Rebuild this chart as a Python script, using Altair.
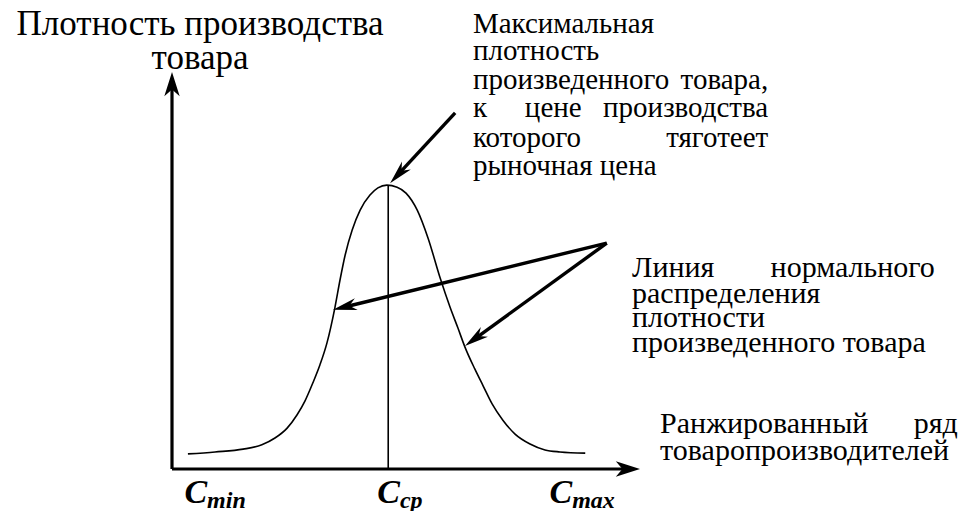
import math
import altair as alt
import pandas as pd

# ---------------- data (chart units: x = ranked producers 0..100, y = density 0..100) -------------
curve_x = [3.4, 9.2, 15.2, 19.2, 22.0, 24.6, 26.7, 28.4, 30.1, 31.6, 33.1, 34.8, 35.9, 37.0,
           38.5, 40.2, 42.3, 44.0, 45.9,
           48.1, 50.0, 52.4, 54.7, 57.3, 59.4, 61.1, 62.6, 64.7, 66.5, 68.4, 70.7, 73.3,
           76.5, 79.7, 82.9, 88.3]
curve_y = [3.8, 4.3, 5.0, 6.1, 7.8, 10.3, 13.6, 17.1, 21.7, 26.2, 31.7, 40.6, 47.6, 53.9,
           60.2, 65.2, 69.0, 70.8, 71.5,
           71.0, 69.5, 65.2, 58.2, 48.1, 40.8, 35.5, 30.7, 25.2, 20.9, 16.4, 12.3, 8.8,
           6.3, 4.8, 4.3, 4.0]

c_mean_x = 46.2          # C_ср
c_peak_y = 71.5

tick_pos = [7.5, 48.7, 85.5]
tick_main = ["C", "C", "C"]
tick_sub = ["min", "ср", "max"]

axis_end_x = 100
axis_end_y = 100

# annotation arrows: from -> to
arrow_from_x = [60.5, 92.9, 92.9]
arrow_from_y = [89.7, 56.9, 56.9]
arrow_to_x = [46.6, 34.4, 62.6]
arrow_to_y = [72.0, 40.1, 31.0]

y_title = ["Плотность производства", "товара"]
y_title_pos = (6.0, 109.3)

# left-aligned words (text, x, y, size)
notes_left = [
    ("Максимальная", 64.3, 109.8, 29),
    ("плотность", 64.3, 103.0, 29),
    ("произведенного", 64.3, 95.7, 29),
    ("к", 64.3, 88.7, 29),
    ("цене", 75.4, 88.7, 29),
    ("которого", 64.3, 81.1, 29),
    ("рыночная цена", 64.3, 74.1, 29),
    ("Линия", 98.3, 48.4, 30),
    ("распределения", 98.3, 41.8, 30),
    ("плотности", 98.3, 35.8, 30),
    ("произведенного товара", 98.3, 29.5, 30),
    ("Ранжированный", 104.3, 9.1, 30),
    ("товаропроизводителей", 104.3, 2.3, 30),
]
# right-aligned words (justified line ends)
notes_right = [
    ("товара,", 127.4, 95.7, 29),
    ("производства", 127.4, 88.7, 29),
    ("тяготеет", 127.4, 81.1, 29),
    ("нормального", 163.0, 48.4, 30),
    ("ряд", 167.9, 9.1, 30),
]

# ---------------- layout ----------------
W, H = 950, 503
X0, Y0 = 164, 461          # origin in svg pixels
PXX, PXY = 4.68, 3.97      # pixels per unit
xdom = [-X0 / PXX, (W - X0) / PXX]
ydom = [-(H - Y0) / PXY, Y0 / PXY]
xs = alt.Scale(domain=xdom, nice=False, zero=False)
ys = alt.Scale(domain=ydom, nice=False, zero=False)
X = lambda f="x": alt.X(f"{f}:Q", scale=xs, axis=None)
Y = lambda f="y": alt.Y(f"{f}:Q", scale=ys, axis=None)

FONT = "Liberation Serif"
AXIS_HEAD = "M0,0 L0.7,2.2 L0,1.6 L-0.7,2.2 Z"
NOTE_HEAD = "M0,0 L0.5,2.0 L0,1.4 L-0.5,2.0 Z"


def arrows(fx, fy, tx, ty, shorten):
    rows, heads = [], []
    for a, b, c, d in zip(fx, fy, tx, ty):
        dxp, dyp = (c - a) * PXX, (d - b) * PXY
        L = math.hypot(dxp, dyp)
        ex = c - shorten * dxp / L / PXX
        ey = d - shorten * dyp / L / PXY
        ang = math.degrees(math.atan2(dxp, dyp)) % 360
        rows.append({"x": a, "y": b, "x2": ex, "y2": ey})
        heads.append({"x": c, "y": d, "angle": ang})
    return pd.DataFrame(rows), pd.DataFrame(heads)


ax_lines, ax_heads = arrows([0, 0], [0, 0], [0, axis_end_x], [axis_end_y, 0], 15)
nt_lines, nt_heads = arrows(arrow_from_x, arrow_from_y, arrow_to_x, arrow_to_y, 13)

axis_rules = alt.Chart(ax_lines).mark_rule(color="black", strokeWidth=3.2).encode(
    x=X(), y=Y(), x2="x2:Q", y2="y2:Q")
axis_heads = alt.Chart(ax_heads).mark_point(
    shape=AXIS_HEAD, filled=True, size=484, color="black", opacity=1, strokeWidth=0
).encode(x=X(), y=Y(), angle=alt.Angle("angle:Q", scale=None))

note_rules = alt.Chart(nt_lines).mark_rule(color="black", strokeWidth=3.4).encode(
    x=X(), y=Y(), x2="x2:Q", y2="y2:Q")
note_heads = alt.Chart(nt_heads).mark_point(
    shape=NOTE_HEAD, filled=True, size=576, color="black", opacity=1, strokeWidth=0
).encode(x=X(), y=Y(), angle=alt.Angle("angle:Q", scale=None))

curve = alt.Chart(pd.DataFrame({"x": curve_x, "y": curve_y})).mark_line(
    color="black", strokeWidth=1.6, interpolate="monotone").encode(x=X(), y=Y())

center = alt.Chart(pd.DataFrame({"x": [c_mean_x], "y": [0], "y2": [c_peak_y]})).mark_rule(
    color="black", strokeWidth=1.6).encode(x=X(), y=Y(), y2="y2:Q")

ticks = pd.DataFrame({"x": tick_pos, "y": [0] * 3, "m": tick_main, "s": tick_sub})
tick_main_t = alt.Chart(ticks).mark_text(
    font=FONT, fontSize=34, fontStyle="italic", fontWeight="bold", align="right",
    baseline="alphabetic", dy=34, color="black").encode(x=X(), y=Y(), text="m:N")
tick_sub_t = alt.Chart(ticks).mark_text(
    font=FONT, fontSize=24, fontStyle="italic", fontWeight="bold", align="left",
    baseline="alphabetic", dy=39, color="black").encode(x=X(), y=Y(), text="s:N")

ytitle = alt.Chart(pd.DataFrame({"x": [y_title_pos[0]], "y": [y_title_pos[1]]})).mark_text(
    font=FONT, fontSize=35, align="center", baseline="alphabetic", lineHeight=34,
    color="black", text=y_title).encode(x=X(), y=Y())

nl = pd.DataFrame(notes_left, columns=["t", "x", "y", "s"])
nr = pd.DataFrame(notes_right, columns=["t", "x", "y", "s"])
notes_l = alt.Chart(nl).mark_text(font=FONT, align="left", baseline="alphabetic",
                                  color="black").encode(
    x=X(), y=Y(), text="t:N", size=alt.Size("s:Q", scale=None, legend=None))
notes_r = alt.Chart(nr).mark_text(font=FONT, align="right", baseline="alphabetic",
                                  color="black").encode(
    x=X(), y=Y(), text="t:N", size=alt.Size("s:Q", scale=None, legend=None))

chart = alt.layer(
    curve, center, axis_rules, axis_heads, note_rules, note_heads,
    tick_main_t, tick_sub_t, ytitle, notes_l, notes_r
).properties(
    width=W, height=H, padding=0, autosize=alt.AutoSizeParams(type="none"),
    background="white"
).configure_view(stroke=None)

chart.save("out.html", embed_options={"renderer": "svg", "actions": False})
